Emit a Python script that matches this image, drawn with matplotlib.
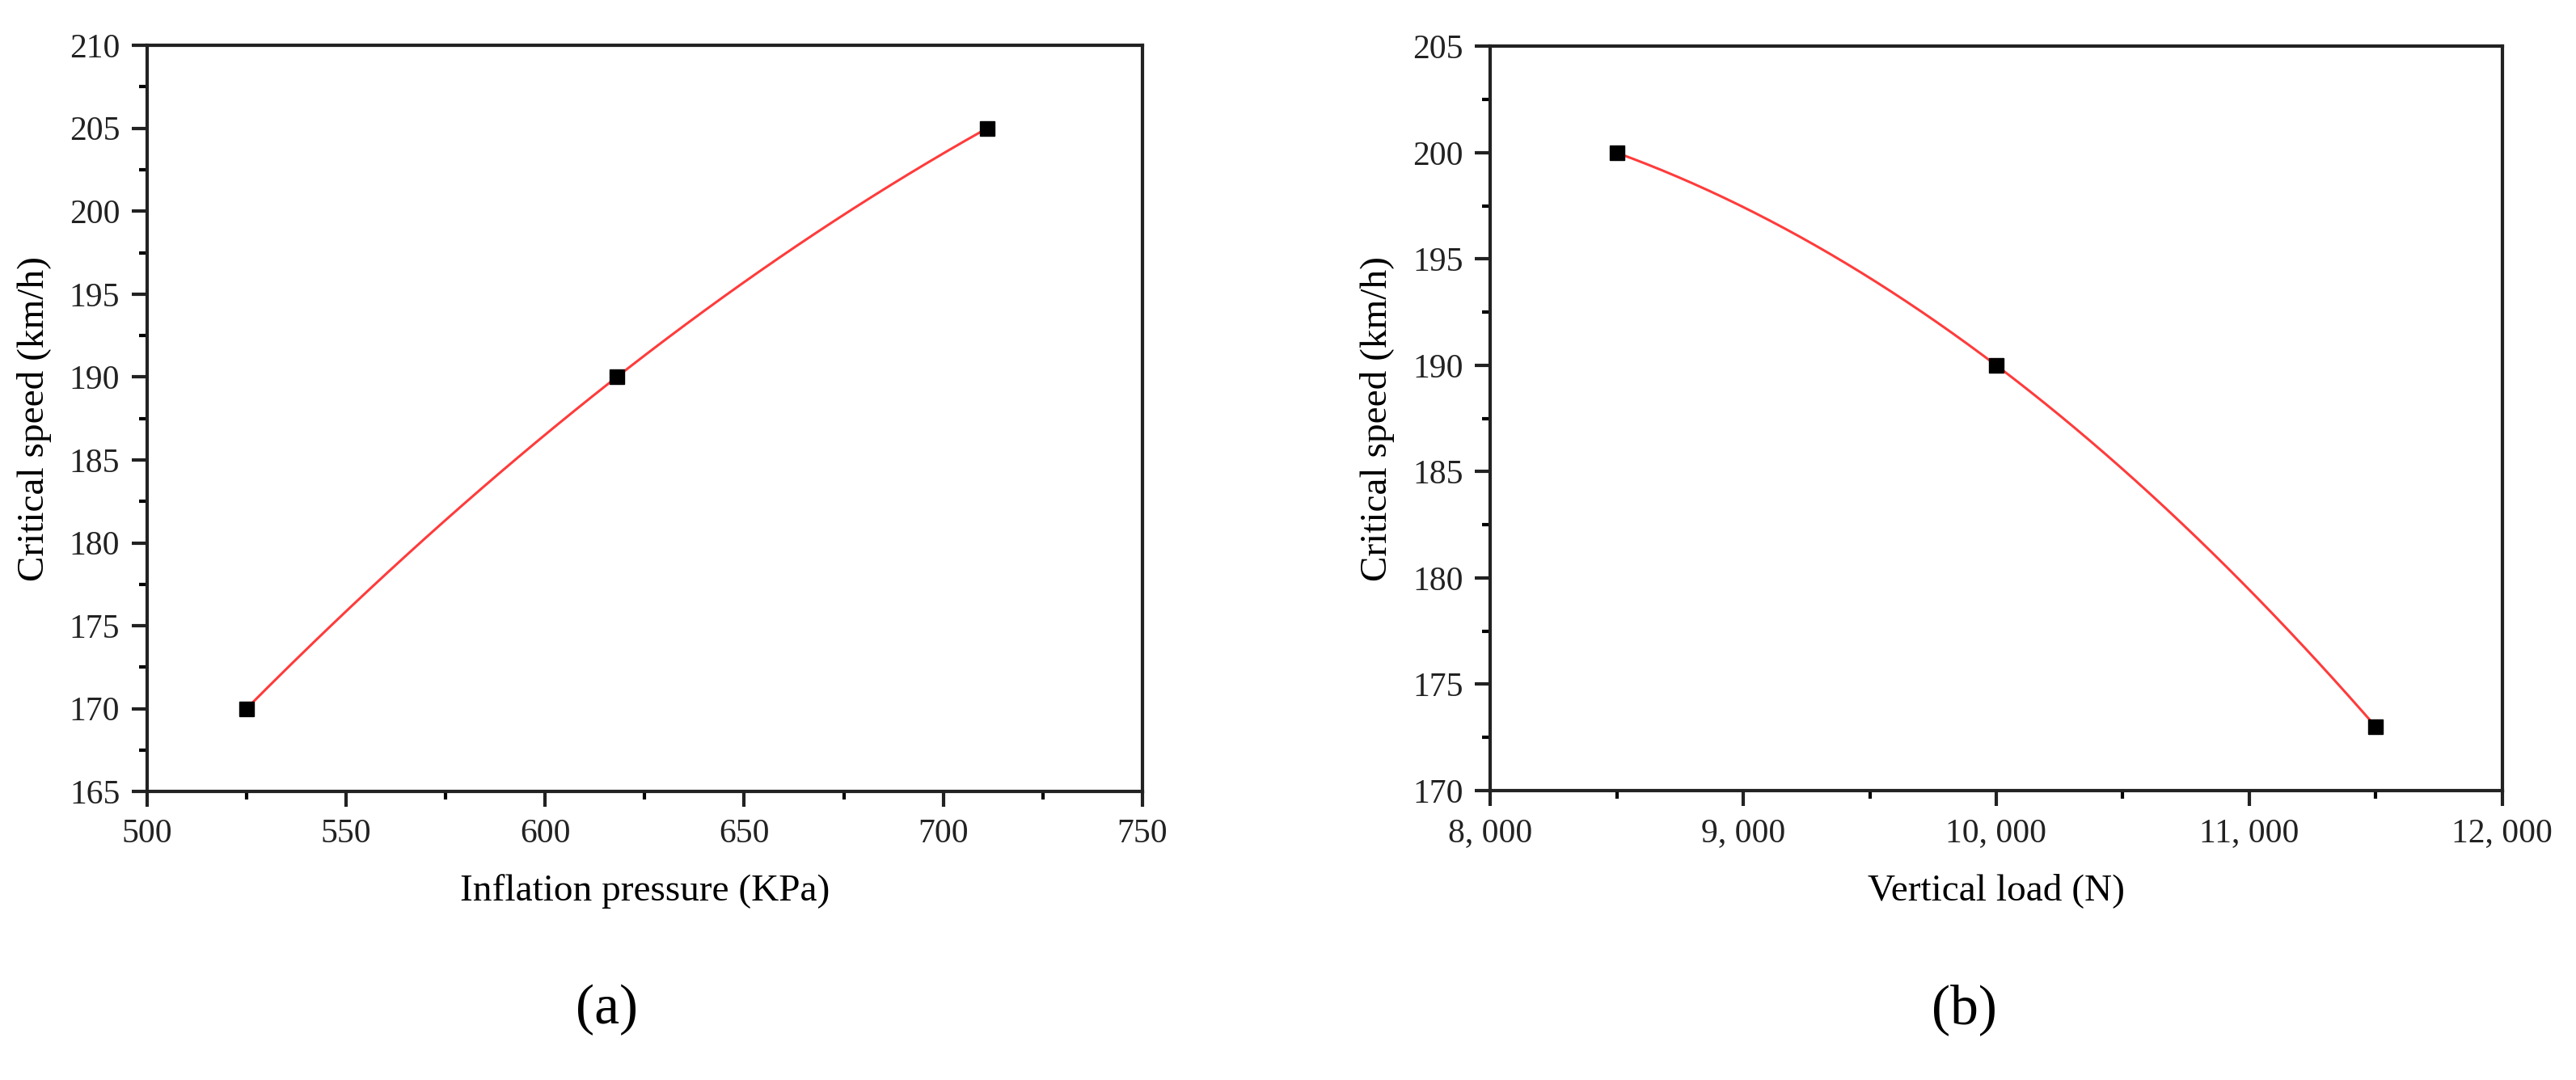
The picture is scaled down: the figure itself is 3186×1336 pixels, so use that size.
import numpy as np
import matplotlib
matplotlib.use("Agg")
import matplotlib.pyplot as plt
from matplotlib.ticker import MultipleLocator, FuncFormatter

pressure = [525, 618, 711]
speed_a = [170, 190, 205]
load = [8500, 10000, 11500]
speed_b = [200, 190, 173]

plt.rcParams['font.family'] = ['Liberation Serif', 'DejaVu Serif']
fig = plt.figure(figsize=(31.86, 13.36), dpi=100)
ax1 = fig.add_axes([0.057, 0.267, 0.3865, 0.691])
ax2 = fig.add_axes([0.5785, 0.268, 0.3929, 0.689])

def panel(ax, x, y, xlim, ylim, xmaj, ymaj, xlabel, fmt=None):
    c = np.polyfit(x, y, 2)
    xs = np.linspace(x[0], x[-1], 200)
    ax.plot(xs, np.polyval(c, xs), color='#ff3b3b', lw=2.2, zorder=2)
    ax.plot(x, y, 's', color='black', ms=13, zorder=3)
    ax.set_xlim(*xlim); ax.set_ylim(*ylim)
    ax.xaxis.set_major_locator(MultipleLocator(xmaj))
    ax.xaxis.set_minor_locator(MultipleLocator(xmaj / 2))
    ax.yaxis.set_major_locator(MultipleLocator(ymaj))
    ax.yaxis.set_minor_locator(MultipleLocator(ymaj / 2))
    if fmt:
        ax.xaxis.set_major_formatter(FuncFormatter(fmt))
    ax.tick_params(which='major', direction='out', length=14, width=3, labelsize=30, colors='#222222', pad=10)
    ax.tick_params(which='minor', direction='out', length=7, width=3)
    for s in ax.spines.values():
        s.set_linewidth(3); s.set_color('#222222')
    ax.set_xlabel(xlabel, fontsize=34, labelpad=22)
    ax.set_ylabel('Critical speed (km/h)', fontsize=34, labelpad=16)

panel(ax1, pressure, speed_a, (500, 750), (165, 210), 50, 5, 'Inflation pressure (KPa)')
panel(ax2, load, speed_b, (8000, 12000), (170, 205), 1000, 5, 'Vertical load (N)',
      fmt=lambda v, p: f"{int(v)//1000}, {int(v)%1000:03d}")

fig.text(0.2355, 0.065, '(a)', fontsize=50, ha='center', va='center')
fig.text(0.7625, 0.065, '(b)', fontsize=50, ha='center', va='center')
fig.savefig('out.png', dpi=100, facecolor='white')
